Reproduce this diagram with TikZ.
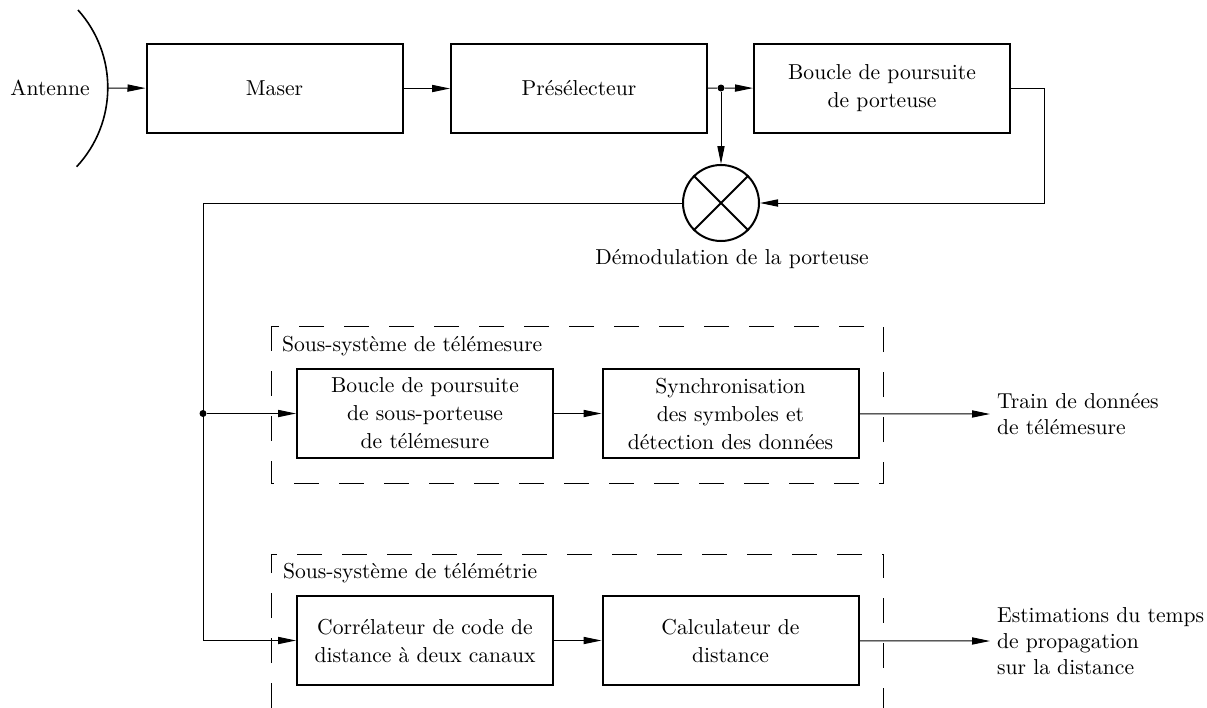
\documentclass[tikz,border=0pt]{standalone}
\usetikzlibrary{arrows.meta}

\begin{document}
\begin{tikzpicture}[x=0.5pt, y=-0.5pt,
  font=\fontsize{10.8}{14}\selectfont,
  block/.style={draw, line width=1pt, minimum width=128pt, minimum height=44.5pt, align=center, inner sep=1pt},
  link/.style={line width=0.5pt, -{Triangle[length=9pt, width=3.6pt]}},
  wire/.style={line width=0.5pt},
  junction/.style={circle, fill, inner sep=0pt, minimum size=3.5pt},
  subsys/.style={line width=0.5pt, dash pattern=on 12.5pt off 10pt},
  outlabel/.style={anchor=west, align=left, font=\fontsize{10.8}{13}\selectfont}]
  \useasboundingbox (0,0) rectangle (1207,708);

  % Antenna
  \draw[line width=0.8pt] (78,10) arc[start angle=42, end angle=-43, radius=58pt];
  \node (antenne) at (50,88) {Antenne};
  \coordinate (feed) at (108,88);

  % Receiver chain
  \node[block] (maser) at (274.5,88.5) {Maser};
  \node[block] (presel) at (579,88.5) {Présélecteur};
  \node[block] (carrier) at (882,88.5) {Boucle de poursuite\\de porteuse};
  \node[junction] (split) at (721,88) {};

  % Carrier demodulation
  \node[draw, circle, line width=1pt, minimum size=38pt, inner sep=0pt] (mixer) at (721,203) {};
  \draw[line width=1pt] (mixer.north west) -- (mixer.south east)
    (mixer.north east) -- (mixer.south west);
  \node (demod) at (732,259) {Démodulation de la porteuse};
  \coordinate (loopcorner) at (1044,203);

  \draw[link] (feed) -- (maser);
  \draw[link] (maser) -- (presel);
  \draw[wire] (presel) -- (split);
  \draw[link] (split) -- (carrier);
  \draw[link] (split) -- (mixer);
  \draw[link] (carrier.east) -| (loopcorner) -- (mixer.east);

  % Telemetry subsystem
  \draw[subsys] (271,326) rectangle (883,483);
  \node[anchor=west] (tmlabel) at (275,346) {Sous-système de télémesure};
  \node[block] (subloop) at (425,413.5) {Boucle de poursuite\\de sous-porteuse\\de télémesure};
  \node[block] (symsync) at (730.5,413.5) {Synchronisation\\des symboles et\\détection des données};
  \node[outlabel] (train) at (990,414) {Train de données\\de télémesure};

  % Ranging subsystem
  \draw[subsys] (271,708) -- (271,554) -- (883,554) -- (883,708);
  \node[anchor=west] (rglabel) at (276,573) {Sous-système de télémétrie};
  \node[block] (correl) at (425,640.5) {Corrélateur de code de\\distance à deux canaux};
  \node[block] (calc) at (730.5,640.5) {Calculateur de\\distance};
  \node[outlabel] (estim) at (990,641) {Estimations du temps\\de propagation\\sur la distance};

  % Distribution
  \node[junction] (tap) at (203,413.5) {};
  \coordinate (busend) at (203,640.5);
  \draw[link] (mixer.west) -| (busend) -- (correl.west);
  \draw[link] (tap) -- (subloop);
  \draw[link] (subloop) -- (symsync);
  \draw[link] (symsync) -- (train.west);
  \draw[link] (correl) -- (calc);
  \draw[link] (calc) -- (estim.west);
\end{tikzpicture}
\end{document}
